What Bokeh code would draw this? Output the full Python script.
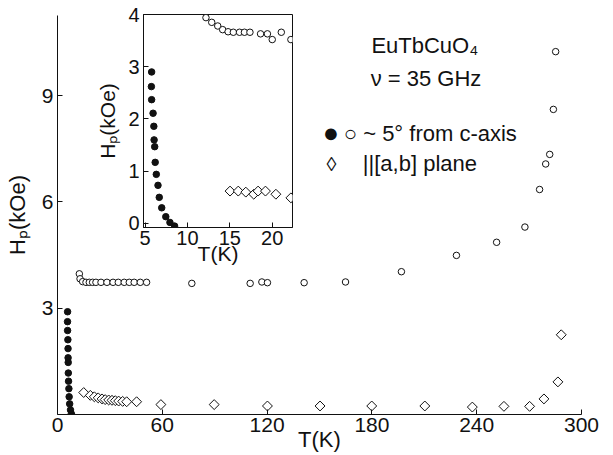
import math
from bokeh.plotting import figure
from bokeh.models import Range1d, FixedTicker, Label
from bokeh.layouts import column
from bokeh.embed import file_html
from bokeh.resources import INLINE

FONT = "Liberation Sans"
INK = "#111111"

# ---------------- data ----------------
# main panel, open circles (~5 deg from c-axis)
main_open_T = [12.5, 12.9, 14.4, 16.3, 18.2, 20.1, 22.0, 24.9, 28.3, 31.8, 34.8, 38.2,
               41.1, 43.9, 47.4, 51.0, 76.9, 110.3, 117.0, 120.2, 141.2, 164.9, 196.9,
               228.4, 251.4, 267.6, 276.0, 279.5, 281.8, 283.9, 285.2]
main_open_H = [3.97, 3.83, 3.75, 3.73, 3.73, 3.73, 3.73, 3.73, 3.73, 3.73, 3.73, 3.73,
               3.73, 3.73, 3.73, 3.73, 3.70, 3.70, 3.74, 3.72, 3.72, 3.74, 4.03,
               4.49, 4.86, 5.29, 6.35, 7.07, 7.34, 8.61, 10.24]
# main panel, diamonds (|| [a,b] plane)
main_diam_T = [15.0, 18.8, 21.1, 23.3, 25.5, 27.3, 29.3, 31.2, 33.1, 35.0, 37.3, 39.6,
               45.3, 59.2, 89.7, 120.2, 150.3, 179.9, 210.3, 237.5, 255.6, 270.3,
               278.5, 286.5, 288.4]
main_diam_H = [0.62, 0.54, 0.50, 0.47, 0.44, 0.42, 0.41, 0.40, 0.39, 0.38, 0.37, 0.36,
               0.36, 0.28, 0.28, 0.24, 0.24, 0.24, 0.24, 0.21, 0.23, 0.23,
               0.44, 0.92, 2.25]
# low-temperature filled circles (shown in both panels)
filled_T = [5.77, 5.74, 5.77, 5.94, 6.03, 6.06, 6.13, 6.19, 6.32, 6.52, 6.67, 6.96,
            7.44, 7.93, 8.48]
filled_H = [2.90, 2.62, 2.37, 2.11, 1.86, 1.60, 1.47, 1.17, 0.94, 0.73, 0.50, 0.30,
            0.13, 0.02, -0.05]
# inset, open circles
ins_open_T = [12.18, 12.86, 13.57, 14.15, 14.79, 15.41, 16.14, 16.72, 17.37, 18.62,
              19.43, 20.0, 21.07, 22.2]
ins_open_H = [3.94, 3.85, 3.78, 3.71, 3.67, 3.66, 3.66, 3.66, 3.66, 3.63,
              3.63, 3.52, 3.66, 3.52]
# inset, diamonds
ins_diam_T = [15.02, 15.99, 16.88, 17.82, 18.33, 19.20, 20.43, 22.2]
ins_diam_H = [0.62, 0.62, 0.60, 0.56, 0.62, 0.62, 0.56, 0.49]

main_xticks = [0, 60, 120, 180, 240, 300]
main_yticks = [3, 6, 9]
ins_xticks = [5, 10, 15, 20]
ins_yticks = [0, 1, 2, 3, 4]


def style_axes(p, label_size, tick_size):
    for ax in p.axis:
        ax.axis_line_color = INK
        ax.axis_line_width = 1
        ax.major_tick_line_color = INK
        ax.major_tick_in = 5
        ax.major_tick_out = 0
        ax.minor_tick_line_color = None
        ax.major_label_text_font = FONT
        ax.major_label_text_font_size = tick_size
        ax.major_label_text_color = INK
        ax.axis_label_text_font = FONT
        ax.axis_label_text_font_size = label_size
        ax.axis_label_text_font_style = "normal"
        ax.axis_label_text_color = INK
    p.grid.visible = False


# ---------------- main panel ----------------
main = figure(width=613, height=455, x_range=Range1d(0, 300), y_range=Range1d(0, 11.26),
              output_backend="svg", toolbar_location=None,
              min_border_left=57, min_border_right=32, min_border_top=15,
              min_border_bottom=41)
main.outline_line_color = None
main.background_fill_color = "white"
main.border_fill_color = "white"
style_axes(main, "22px", "21px")
main.xaxis.ticker = FixedTicker(ticks=main_xticks)
main.yaxis.ticker = FixedTicker(ticks=main_yticks)
main.xaxis.axis_label = "T(K)"
main.yaxis.axis_label = "H\u209a(kOe)"
main.xaxis.major_label_standoff = 3
main.xaxis.axis_label_standoff = -8
main.yaxis.major_label_standoff = 4
main.yaxis.axis_label_standoff = 9

main.scatter(main_open_T, main_open_H, marker="circle", size=6.5,
             fill_color="white", line_color=INK, line_width=1)
main.scatter(main_diam_T, main_diam_H, marker="square", angle=math.pi / 4, size=7,
             fill_color="white", line_color=INK, line_width=1)
main.scatter(filled_T, filled_H, marker="circle", size=6.5,
             fill_color=INK, line_color=INK)

def add_label(p, x, y, text, size="22px"):
    p.add_layout(Label(x=x, y=y, text=text, text_font=FONT, text_font_size=size,
                       text_color=INK, text_baseline="alphabetic", text_align="left"))

add_label(main, 179.7, 10.41, "EuTbCuO\u2084")
add_label(main, 179.3, 9.47, "\u03bd = 35 GHz")
add_label(main, 151.8, 7.93, "\u25cf", "27px")
add_label(main, 163.9, 7.93, "\u25cb ~ 5\u00b0 from c-axis")
add_label(main, 154.0, 7.08, "\u25ca", "20px")
add_label(main, 174.8, 7.08, "||[a,b] plane")

# ---------------- inset ----------------
ins = figure(width=238, height=272, x_range=Range1d(4.81, 22.39),
             y_range=Range1d(-0.077, 4.0), output_backend="svg", toolbar_location=None,
             min_border_left=50, min_border_right=5, min_border_top=14,
             min_border_bottom=45)
ins.outline_line_color = INK
ins.outline_line_width = 1
ins.background_fill_color = None
ins.border_fill_color = None
style_axes(ins, "21px", "20px")
ins.xaxis.ticker = FixedTicker(ticks=ins_xticks)
ins.yaxis.ticker = FixedTicker(ticks=ins_yticks)
ins.xaxis.axis_label = "T(K)"
ins.yaxis.axis_label = "H\u209a(kOe)"
ins.xaxis.major_label_standoff = 3
ins.xaxis.axis_label_standoff = -6
ins.yaxis.major_label_standoff = 4
ins.yaxis.axis_label_standoff = 6

ins.scatter(ins_open_T, ins_open_H, marker="circle", size=6.5,
            fill_color="white", line_color=INK, line_width=1)
ins.scatter(ins_diam_T, ins_diam_H, marker="square", angle=math.pi / 4, size=7,
            fill_color="white", line_color=INK, line_width=1)
ins.scatter(filled_T, filled_H, marker="circle", size=6.5,
            fill_color=INK, line_color=INK)

ins.margin = (-455, 0, 0, 86)

layout = column(main, ins, spacing=0)
open("out.html", "w").write(file_html(layout, INLINE))
